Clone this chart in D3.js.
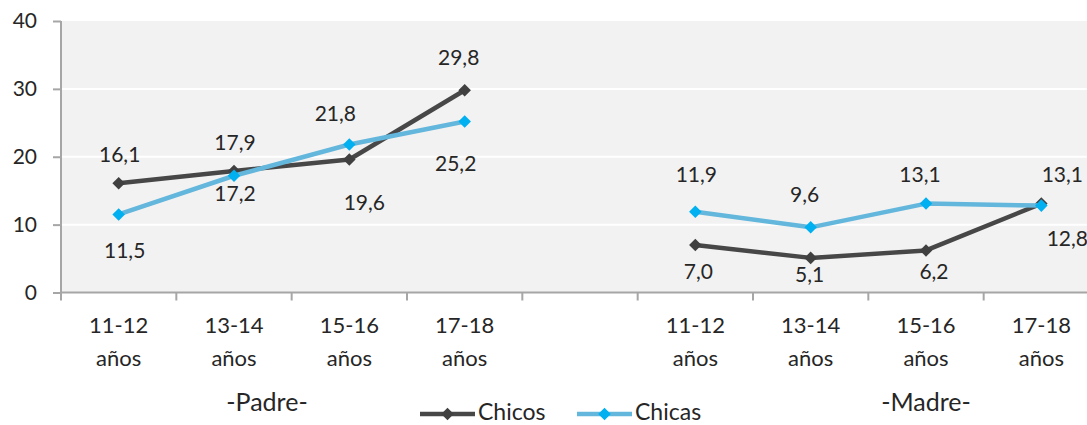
<!DOCTYPE html>
<html>
<head>
<meta charset="utf-8">
<script src="https://cdn.jsdelivr.net/npm/d3@7"></script>
<style>
  html, body { margin: 0; padding: 0; background: #ffffff; }
  svg { display: block; }
  text { font-family: Lato, "Noto Sans", sans-serif; fill: #262626; }
</style>
</head>
<body>
<svg id="chart" width="1087" height="425"></svg>
<script>
// ---- data ----
const groups = ["Padre", "Madre"];
const ageLabels = ["11-12", "13-14", "15-16", "17-18"];
const yTicks = [0, 10, 20, 30, 40];
const chicosPadre = [16.1, 17.9, 19.6, 29.8];
const chicasPadre = [11.5, 17.2, 21.8, 25.2];
const chicosMadre = [7.0, 5.1, 6.2, 13.1];
const chicasMadre = [11.9, 9.6, 13.1, 12.8];
const seriesNames = ["Chicos", "Chicas"];

// label nudges (pixels, relative to the point): [dx, dy of baseline]
const chicosLabelNudge = [[1, -21], [1, -21], [15, 51], [-6, -25], [3, 34], [-1, 24], [8, 29], [21, -22]];
const chicasLabelNudge = [[6, 44], [1, 25], [-14, -24], [-9, 50], [1, -30], [-6, -25], [-6, -22], [26, 40]];

(function () {
// ---- layout ----
const svg = d3.select("#chart");
const mLeft = 61, mRight = 1099, mTop = 21, mBottom = 292.5;

// categories: Padre ages, a gap slot, Madre ages
const slots = [];
groups.forEach((g, gi) => {
  ageLabels.forEach(a => slots.push(g + "|" + a));
  if (gi < groups.length - 1) slots.push("gap");
});

const x = d3.scaleBand().domain(slots).range([mLeft, mRight]).padding(0);
const y = d3.scaleLinear().domain([0, 40]).range([mBottom, mTop]);
const cx = k => x(k) + x.bandwidth() / 2;

function buildSeries(padre, madre) {
  const pts = [];
  padre.forEach((v, i) => pts.push({ key: "Padre|" + ageLabels[i], v }));
  pts.push({ key: "gap", v: null });
  madre.forEach((v, i) => pts.push({ key: "Madre|" + ageLabels[i], v }));
  return pts;
}
const chicos = buildSeries(chicosPadre, chicosMadre);
const chicas = buildSeries(chicasPadre, chicasMadre);

// plot area background
svg.append("rect")
  .attr("x", mLeft + 1).attr("y", y(40))
  .attr("width", mRight - mLeft).attr("height", y(0) - y(40))
  .attr("fill", "#f2f2f2");

// gridlines
svg.append("g").selectAll("line").data(yTicks.filter(t => t > 0 && t < 40)).join("line")
  .attr("x1", mLeft + 1).attr("x2", mRight)
  .attr("y1", d => y(d)).attr("y2", d => y(d))
  .attr("stroke", "#ffffff").attr("stroke-width", 2);

// y axis
const yAxis = svg.append("g").attr("transform", `translate(${mLeft},0)`)
  .call(d3.axisLeft(y).tickValues(yTicks).tickSize(8).tickPadding(16).tickSizeOuter(0));
yAxis.select(".domain").attr("stroke", "#a6a6a6").attr("stroke-width", 2)
  .attr("d", `M0,${y(40)}V${y(0) + 8}`);
yAxis.selectAll(".tick line").attr("stroke", "#a6a6a6").attr("stroke-width", 2);
yAxis.selectAll(".tick text").attr("font-size", 21).attr("fill", "#262626")
  .attr("font-family", "Lato, 'Noto Sans', sans-serif");

// x axis line
svg.append("line")
  .attr("x1", mLeft).attr("x2", 1087).attr("y1", y(0)).attr("y2", y(0))
  .attr("stroke", "#a6a6a6").attr("stroke-width", 2);

// x ticks at category boundaries
svg.append("g").selectAll("line").data(slots.slice(1)).join("line")
  .attr("x1", d => x(d)).attr("x2", d => x(d))
  .attr("y1", y(0)).attr("y2", y(0) + 8)
  .attr("stroke", "#a6a6a6").attr("stroke-width", 2);

// x tick labels
const catG = svg.append("g");
slots.filter(s => s !== "gap").forEach(s => {
  const age = s.split("|")[1];
  const t = catG.append("text").attr("text-anchor", "middle").attr("font-size", 22);
  t.append("tspan").attr("x", cx(s)).attr("y", 333).text(age);
  t.append("tspan").attr("x", cx(s)).attr("y", 366).text("años");
});

// group labels
svg.append("text").attr("x", 267).attr("y", 411).attr("text-anchor", "middle")
  .attr("font-size", 25).text("-" + groups[0] + "-");
svg.append("text").attr("x", 926).attr("y", 411).attr("text-anchor", "middle")
  .attr("font-size", 25).text("-" + groups[1] + "-");

// lines
const line = d3.line()
  .defined(d => d.v !== null)
  .x(d => cx(d.key)).y(d => y(d.v));

const diamond = d3.symbol().type(d3.symbolDiamond2).size(100);

function drawSeries(data, lineColor, markerColor) {
  svg.append("path").datum(data)
    .attr("d", line).attr("fill", "none")
    .attr("stroke", lineColor).attr("stroke-width", 4.5)
    .attr("stroke-linejoin", "round");
  svg.append("g").selectAll("path").data(data.filter(d => d.v !== null)).join("path")
    .attr("d", diamond)
    .attr("transform", d => `translate(${cx(d.key)},${y(d.v)})`)
    .attr("fill", markerColor);
}
drawSeries(chicos, "#474747", "#404040");
drawSeries(chicas, "#63b6dc", "#00b0f0");

// data labels
function drawLabels(data, nudges) {
  const pts = data.filter(d => d.v !== null);
  svg.append("g").selectAll("text").data(pts).join("text")
    .attr("text-anchor", "middle").attr("font-size", 21)
    .attr("x", (d, i) => cx(d.key) + nudges[i][0])
    .attr("y", (d, i) => y(d.v) + nudges[i][1])
    .text(d => d3.format(".1f")(d.v).replace(".", ","));
}
drawLabels(chicos, chicosLabelNudge);
drawLabels(chicas, chicasLabelNudge);

// legend
const legend = [
  { name: seriesNames[0], lc: "#474747", mc: "#404040", x0: 420 },
  { name: seriesNames[1], lc: "#63b6dc", mc: "#00b0f0", x0: 577 }
];
const lg = svg.append("g");
legend.forEach(l => {
  lg.append("line").attr("x1", l.x0).attr("x2", l.x0 + 55).attr("y1", 414).attr("y2", 414)
    .attr("stroke", l.lc).attr("stroke-width", 4.5);
  lg.append("path").attr("d", diamond).attr("transform", `translate(${l.x0 + 27.5},414)`)
    .attr("fill", l.mc);
  lg.append("text").attr("x", l.x0 + 58).attr("y", 420).attr("font-size", 23).text(l.name);
});
})();
</script>
</body>
</html>
